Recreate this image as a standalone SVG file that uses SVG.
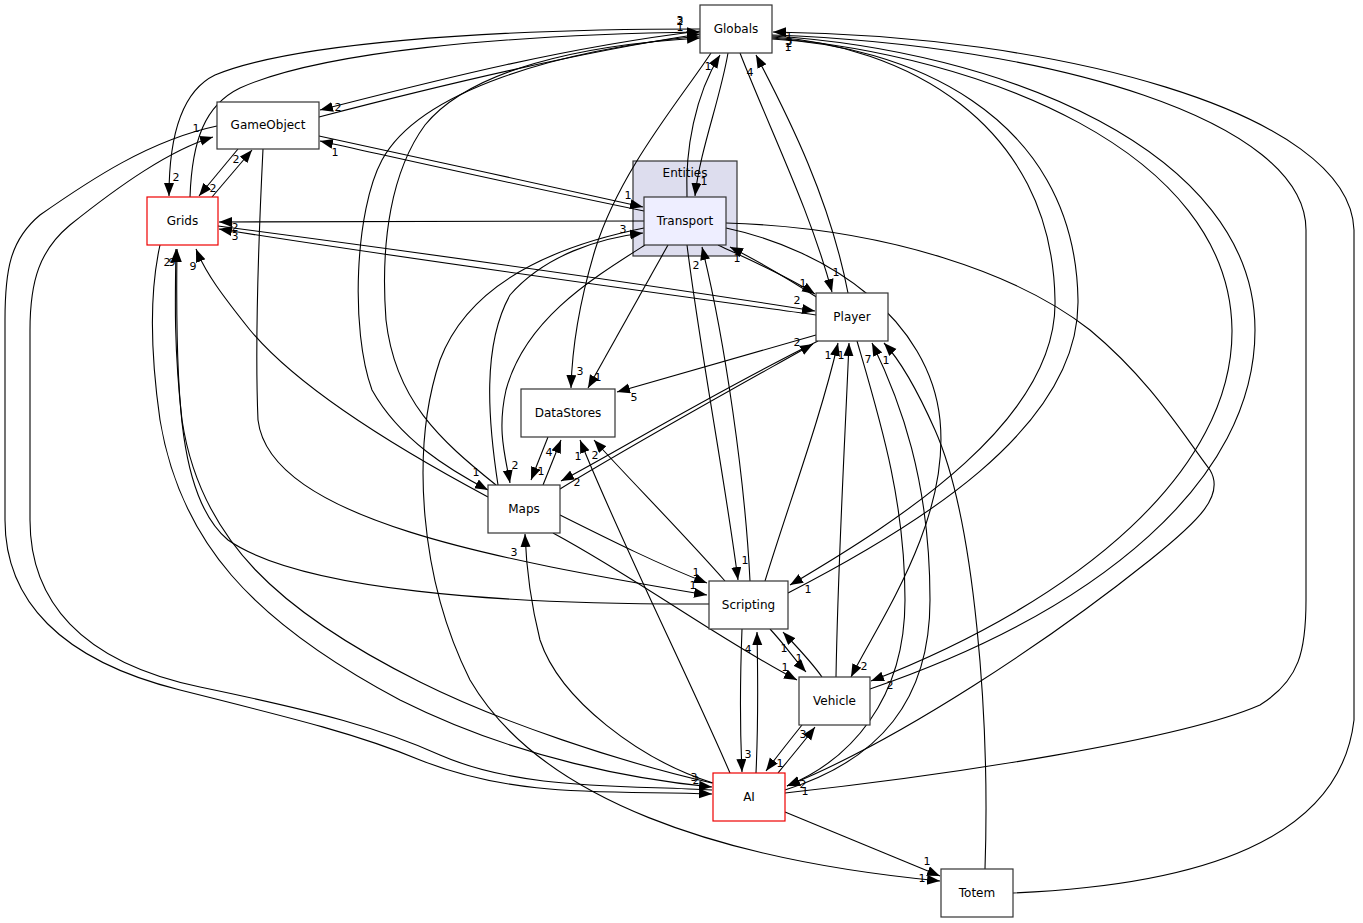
<svg xmlns="http://www.w3.org/2000/svg" width="1363" height="923" viewBox="0 0 1363 923">
<style>
.n rect{fill:#fff;stroke:#333;stroke-width:1.2}
.n.red rect{stroke:#e00}
.n text{font-family:"DejaVu Sans",sans-serif;font-size:12px;text-anchor:middle;fill:#000}
#edges path{fill:none;stroke:#000;stroke-width:1.1}
#edges path.a{marker-end:url(#ah)}
#labels text{font-family:"DejaVu Sans",sans-serif;font-size:11px;text-anchor:middle;fill:#000}
</style>
<defs>
<marker id="ah" markerWidth="14" markerHeight="11" refX="13" refY="5" orient="auto" markerUnits="userSpaceOnUse"><path d="M0,0 L13,5 L0,10 z" fill="#000"/></marker>
</defs>
<rect width="1363" height="923" fill="#fff"/>
<g id="cluster_entities">
<rect x="633" y="161" width="104" height="95" fill="#ddddee" stroke="#333" stroke-width="1.2"/>
<text x="685" y="177" font-family="DejaVu Sans,sans-serif" font-size="12" text-anchor="middle">Entities</text>
</g>
<g id="edges">
<path class="a" d="M700,31 C560,48 430,82 320,110"/>
<path class="a" d="M319,117 C430,88 580,52 700,34"/>
<path class="a" d="M700,29 C480,29 290,44 215,75 C180,92 169,140 169,196"/>
<path class="a" d="M190,197 C192,140 205,105 240,88 C320,52 500,35 700,32"/>
<path class="a" d="M700,36 C560,50 420,90 382,160 C355,210 350,330 372,390 C400,440 450,470 488,490"/>
<path class="a" d="M496,485 C440,440 395,400 386,320 C380,240 392,170 425,125 C470,70 580,45 700,38"/>
<path class="a" d="M711,53 C680,100 620,170 595,250 C580,300 572,350 571,388"/>
<path class="a" d="M728,53 C720,100 700,150 695,196"/>
<path class="a" d="M687,197 C685,150 695,95 720,55"/>
<path class="a" d="M740,53 C770,130 810,210 832,292"/>
<path class="a" d="M848,293 C830,200 790,120 756,55"/>
<path class="a" d="M772,37 C900,45 1052,120 1055,300 C1058,420 900,520 790,585"/>
<path d="M788,593 C910,530 1080,430 1078,300 C1075,110 900,45 772,39"/>
<path class="a" d="M772,38 C980,55 1230,150 1232,330 C1233,470 1080,600 871,681"/>
<path d="M870,689 C1100,610 1255,480 1255,330 C1255,150 1000,50 772,36"/>
<path d="M785,793 C950,775 1180,740 1260,705 C1300,680 1306,650 1306,600 L1306,230 C1306,120 1050,45 772,35"/>
<path class="a" d="M1013,893 C1200,885 1340,840 1354,720 L1354,230 C1350,110 1050,35 773,32"/>
<path class="a" d="M319,136 C420,158 540,184 643,207"/>
<path class="a" d="M644,211 C540,190 420,163 320,141"/>
<path class="a" d="M238,149 L199,196"/>
<path class="a" d="M212,197 L252,150"/>
<path class="a" d="M644,221 L219,222"/>
<path class="a" d="M218,226 C400,250 650,285 815,311"/>
<path class="a" d="M816,315 C650,292 400,258 219,229"/>
<path class="a" d="M718,245 C750,260 785,275 815,294"/>
<path class="a" d="M818,298 C790,280 760,262 730,247"/>
<path class="a" d="M668,245 L588,388"/>
<path class="a" d="M687,245 C700,350 725,480 738,580"/>
<path class="a" d="M750,581 C745,480 725,340 702,247"/>
<path class="a" d="M726,228 C830,250 930,320 940,420 C950,520 880,620 851,677"/>
<path class="a" d="M726,223 C890,228 1020,275 1090,330 C1150,380 1180,430 1210,470 C1225,495 1200,520 1150,560 C1050,640 900,740 787,786"/>
<path class="a" d="M816,335 L617,392"/>
<path class="a" d="M818,341 C700,400 620,450 561,481"/>
<path class="a" d="M560,489 C640,440 740,385 813,344"/>
<path class="a" d="M765,581 C790,500 820,420 838,343"/>
<path class="a" d="M836,677 C838,560 845,440 849,343"/>
<path class="a" d="M857,341 C880,420 905,500 905,600 C905,700 850,760 787,786"/>
<path class="a" d="M785,790 C880,760 930,700 930,600 C930,480 900,400 872,343"/>
<path class="a" d="M985,869 C990,720 975,520 935,430 C915,385 900,360 884,343"/>
<path class="a" d="M548,437 L531,480"/>
<path class="a" d="M543,485 L561,440"/>
<path class="a" d="M730,773 C690,680 620,540 580,440"/>
<path class="a" d="M725,581 C680,530 630,480 594,440"/>
<path class="a" d="M645,245 C590,280 525,320 506,390 C497,430 505,455 510,483"/>
<path class="a" d="M498,485 C488,420 482,345 510,295 C545,255 600,238 643,233"/>
<path class="a" d="M488,497 C400,450 300,390 250,330 C222,295 205,272 196,249"/>
<path class="a" d="M560,515 C610,540 660,565 707,583"/>
<path class="a" d="M263,149 C258,250 255,350 258,420 C270,520 500,560 707,595"/>
<path class="a" d="M709,604 C500,605 300,590 228,540 C180,500 175,400 177,249"/>
<path class="a" d="M553,533 C640,580 720,640 797,680"/>
<path class="a" d="M770,629 C785,645 795,660 806,672"/>
<path class="a" d="M822,677 C810,660 795,645 783,632"/>
<path class="a" d="M742,629 C740,680 740,730 742,772"/>
<path class="a" d="M756,773 C758,730 758,680 757,632"/>
<path class="a" d="M802,725 C790,740 778,755 766,771"/>
<path class="a" d="M778,773 C790,758 803,743 815,727"/>
<path class="a" d="M713,783 C640,760 560,700 540,640 C530,600 526,560 525,534"/>
<path class="a" d="M785,812 L940,876"/>
<path class="a" d="M644,228 C560,245 470,280 440,360 C410,450 420,580 470,680 C540,800 720,860 940,881"/>
<path class="a" d="M217,126 C150,140 90,180 40,215 C10,240 5,270 5,320 L5,520 C5,600 60,660 180,690 C300,720 360,735 420,760 C520,800 620,790 712,794"/>
<path class="a" d="M712,790 C620,785 520,790 440,755 C380,728 320,712 200,687 C80,662 30,600 30,520 L30,330 C30,280 40,250 70,225 C120,185 170,150 213,137"/>
<path class="a" d="M160,245 C150,290 150,350 160,420 C180,540 250,620 400,700 C520,760 640,780 712,787"/>
<path class="a" d="M712,783 C620,762 500,722 420,682 C280,612 200,540 182,420 C174,350 175,300 176,249"/>
</g>
<g id="n_globals" class="n"><rect x="700" y="5" width="72" height="48"/><text x="736" y="33">Globals</text></g>
<g id="n_gameobject" class="n"><rect x="217" y="102" width="102" height="47"/><text x="268" y="129">GameObject</text></g>
<g id="n_grids" class="n red"><rect x="147" y="197" width="71" height="48"/><text x="182.5" y="225">Grids</text></g>
<g id="n_transport" class="n"><rect x="644" y="197" width="82" height="48" style="fill:#eeeeff"/><text x="685" y="225">Transport</text></g>
<g id="n_player" class="n"><rect x="816" y="293" width="72" height="48"/><text x="852" y="321">Player</text></g>
<g id="n_datastores" class="n"><rect x="521" y="389" width="94" height="48"/><text x="568" y="417">DataStores</text></g>
<g id="n_maps" class="n"><rect x="488" y="485" width="72" height="48"/><text x="524" y="513">Maps</text></g>
<g id="n_scripting" class="n"><rect x="709" y="581" width="79" height="48"/><text x="748.5" y="609">Scripting</text></g>
<g id="n_vehicle" class="n"><rect x="799" y="677" width="71" height="48"/><text x="834.5" y="705">Vehicle</text></g>
<g id="n_ai" class="n red"><rect x="713" y="773" width="72" height="48"/><text x="749" y="801">AI</text></g>
<g id="n_totem" class="n"><rect x="941" y="869" width="72" height="48"/><text x="977" y="897">Totem</text></g>
<g id="labels">
<text x="680" y="24">3</text><text x="680" y="25">2</text><text x="680" y="31">1</text>
<text x="789" y="40">1</text><text x="789" y="45">3</text><text x="789" y="47">2</text><text x="788" y="51">1</text>
<text x="338" y="111">2</text>
<text x="335" y="156">1</text>
<text x="196" y="132">1</text>
<text x="176" y="181">2</text>
<text x="213" y="192">2</text>
<text x="236" y="163">2</text>
<text x="235" y="231">2</text>
<text x="235" y="240">3</text>
<text x="167" y="266">2</text><text x="172" y="266">9</text>
<text x="193" y="270">9</text>
<text x="628" y="199">1</text>
<text x="623" y="233">3</text>
<text x="704" y="185">1</text>
<text x="708" y="70">1</text>
<text x="750" y="76">4</text>
<text x="737" y="262">1</text>
<text x="696" y="269">2</text>
<text x="803" y="287">1</text>
<text x="797" y="304">2</text>
<text x="836" y="276">1</text>
<text x="797" y="346">2</text>
<text x="828" y="359">1</text><text x="841" y="359">1</text><text x="868" y="363">7</text><text x="886" y="364">1</text>
<text x="580" y="375">3</text><text x="598" y="381">1</text><text x="634" y="401">5</text>
<text x="549" y="456">4</text><text x="578" y="460">1</text><text x="595" y="459">2</text>
<text x="515" y="469">2</text><text x="541" y="475">1</text><text x="476" y="476">1</text><text x="577" y="486">2</text>
<text x="514" y="556">3</text>
<text x="696" y="576">1</text><text x="693" y="589">1</text><text x="745" y="564">1</text><text x="808" y="593">1</text>
<text x="748" y="653">4</text><text x="784" y="652">1</text><text x="799" y="662">1</text>
<text x="785" y="671">1</text><text x="864" y="670">2</text><text x="890" y="689">2</text>
<text x="803" y="738">3</text><text x="780" y="767">1</text><text x="748" y="758">3</text>
<text x="694" y="781">3</text><text x="696" y="784">2</text>
<text x="803" y="788">2</text><text x="805" y="795">1</text>
<text x="927" y="865">1</text><text x="922" y="882">1</text>
</g>
</svg>
